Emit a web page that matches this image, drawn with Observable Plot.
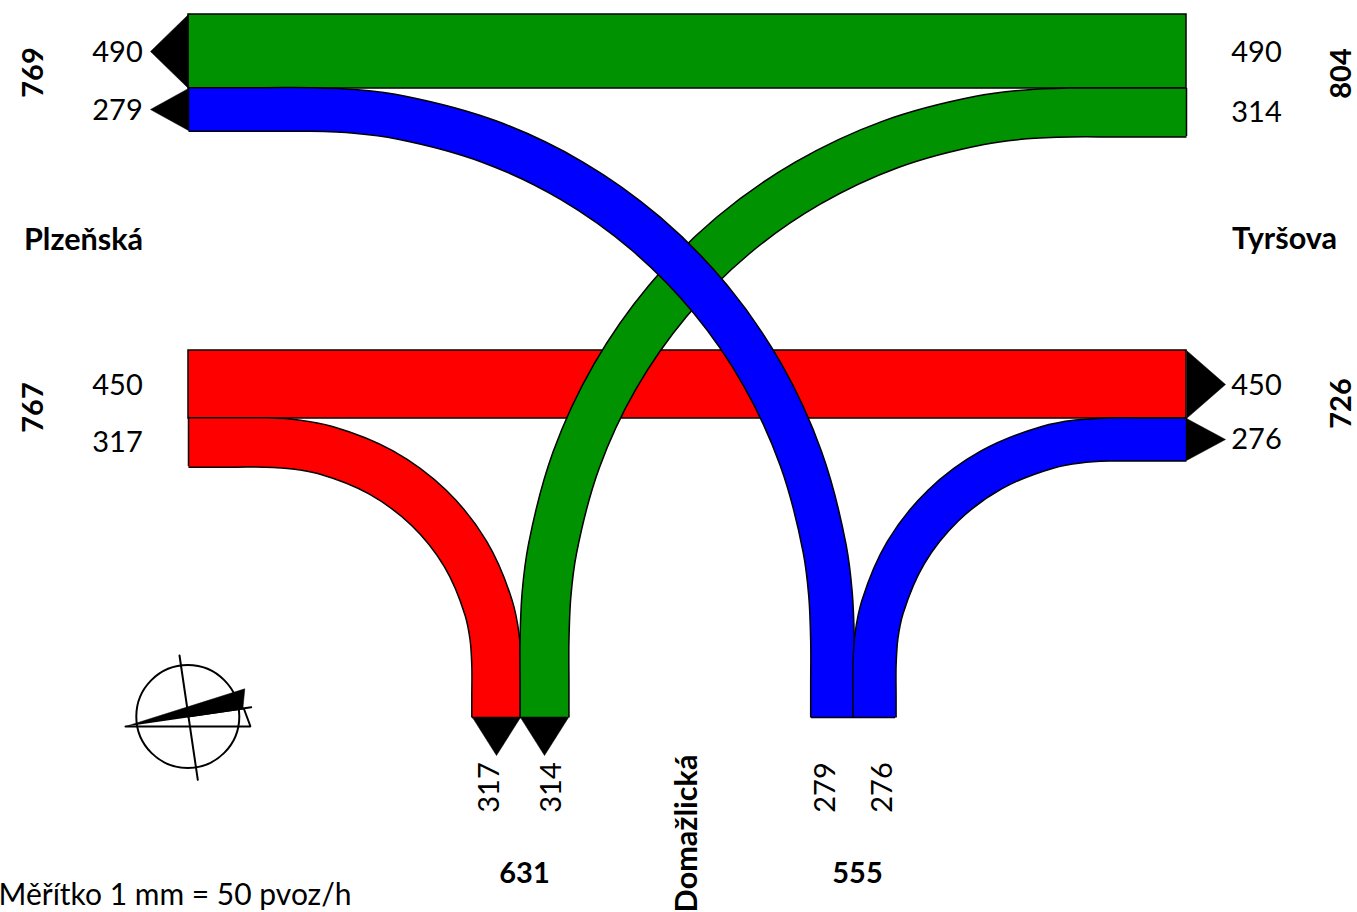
<!DOCTYPE html>
<html><head><meta charset="utf-8">
<script src="https://cdn.jsdelivr.net/npm/d3@7"></script>
<script src="https://cdn.jsdelivr.net/npm/@observablehq/plot@0.6"></script>
<style>html,body{margin:0;padding:0;background:#fff}svg{display:block}</style>
</head><body><div id="chart"></div>
<script>
const GREEN = "#009200", BLUE = "#0000ff", RED = "#ff0000";
const PX_PER_VEHICLE = 0.151;

// Straight-through flows
const straightFlows = [
  {value: 490, x1: 188, x2: 1186, y1: 14, y2: 88, color: GREEN},
  {value: 450, x1: 188, x2: 1186, y1: 350, y2: 418, color: RED}
];

// Turning flows: centre-line waypoints
const redTurn = {value: 317, color: RED, path: [[188,442],[235,442],[265,442],[295.1,443.9],[325,449.6],[380.5,471.9],[428.3,507.3],[465,553.5],[488.1,607.3],[494,635.9],[496,665],[496,695],[496,717]]};
const greenTurn = {value: 314, color: GREEN, path: [[1186,112],[1115,112],[1070,112],[1024.2,114],[978.7,120],[890.1,143.8],[807,182.8],[731.9,235.5],[667.1,300.6],[614.5,376],[575.7,459.4],[552,548.3],[546,594],[544,640],[544,685],[544,717]]};
const blueLeftTurn = {value: 279, color: BLUE, path: [[188,109],[265,109],[310,109],[355.5,111],[400.6,117.1],[488.5,141],[571,180.1],[645.5,233.2],[709.9,298.7],[762.1,374.5],[800.5,458.4],[824.1,547.8],[830,593.7],[832,640],[832,685],[832,717]]};
const blueRightTurn = {value: 276, color: BLUE, path: [[1186,439],[1138,439],[1108,439],[1077.5,441],[1047.4,446.7],[991,469.3],[942.5,505.2],[905.4,552],[882,606.5],[876,635.5],[874,665],[874,695],[874,717]]};
const turns = [redTurn, greenTurn, blueLeftTurn, blueRightTurn];

// Band end caps
const endsV = [
  {x: 188, y1: 88, y2: 130}, {x: 188, y1: 418, y2: 466},
  {x: 1186, y1: 88, y2: 136}, {x: 1186, y1: 418, y2: 460}
];
const endsH = [
  {y: 717, x1: 472, x2: 520}, {y: 717, x1: 520, x2: 568},
  {y: 717, x1: 811, x2: 853}, {y: 717, x1: 853, x2: 895}
];

// Arrow heads
const arrows = [
  [[188,14],[150,51],[188,88]],
  [[188,88],[150,109],[188,130]],
  [[1186,350],[1225,384],[1186,418]],
  [[1186,418],[1225,439],[1186,460]],
  [[472,717],[496,755],[520,717]],
  [[520,717],[544,755],[568,717]]
];

// Labels
const flowLabels = [
  {t:"490",x:117,y:52,r:0},{t:"279",x:117,y:110,r:0},
  {t:"450",x:117,y:385,r:0},{t:"317",x:117,y:442,r:0},
  {t:"490",x:1256,y:52,r:0},{t:"314",x:1256,y:112,r:0},
  {t:"450",x:1256,y:385,r:0},{t:"276",x:1256,y:439,r:0},
  {t:"317",x:489,y:787,r:-90},{t:"314",x:551,y:787,r:-90},
  {t:"279",x:825,y:787,r:-90},{t:"276",x:882,y:787,r:-90}
];
const boldNumbers = [
  {t:"769",x:33,y:72,r:-90},{t:"767",x:33,y:407,r:-90},
  {t:"804",x:1341,y:73,r:-90},{t:"726",x:1341,y:403,r:-90},
  {t:"631",x:524,y:873,r:0},{t:"555",x:857,y:873,r:0}
];
const streetNames = [
  {t:"Plzeňská",x:83,y:240,r:0},{t:"Tyršova",x:1284,y:239,r:0},
  {t:"Domažlická",x:687,y:833,r:-90}
];
const scaleNote = [{t:"Měřítko 1 mm = 50 pvoz/h",x:-2,y:895}];

// North sign
const compassCircle = [{x:187.3,y:716}];
const compassLines = [
  [[179,655],[197.3,779.3]],
  [[187.3,716],[250.7,706.7]],
  [[125,726],[250,726],[243.3,708]]
];
const compassWedge = [[125,726],[244.3,688.3],[242.3,709]];

const band = turn => [
  Plot.line(turn.path, {x:d=>d[0], y:d=>d[1], curve:"catmull-rom", stroke:"black", strokeWidth:turn.value*PX_PER_VEHICLE+3, strokeLinecap:"butt", strokeLinejoin:"round"}),
  Plot.line(turn.path, {x:d=>d[0], y:d=>d[1], curve:"catmull-rom", stroke:turn.color, strokeWidth:turn.value*PX_PER_VEHICLE, strokeLinecap:"butt", strokeLinejoin:"round"})
];

const chart = Plot.plot({
  width: 1357, height: 912,
  margin: 0,
  x: {type:"linear", domain:[0,1357], range:[0,1357], axis:null},
  y: {type:"linear", domain:[0,912], range:[0,912], axis:null},
  style: {background:"#fff", fontFamily:"Lato", color:"#000"},
  marks: [
    Plot.rect(straightFlows, {x1:"x1", x2:"x2", y1:"y1", y2:"y2", fill:"color", stroke:"black", strokeWidth:1.5}),
    ...turns.flatMap(band),
    Plot.ruleX(endsV, {x:"x", y1:"y1", y2:"y2", stroke:"black", strokeWidth:1.5}),
    Plot.ruleY(endsH, {y:"y", x1:"x1", x2:"x2", stroke:"black", strokeWidth:1.5}),
    ...arrows.map(a => Plot.line(a, {x:d=>d[0], y:d=>d[1], fill:"black", stroke:"black", strokeWidth:0.5})),
    Plot.dot(compassCircle, {x:"x", y:"y", r:51.5, stroke:"black", strokeWidth:2, fill:"none"}),
    ...compassLines.map(l => Plot.line(l, {x:d=>d[0], y:d=>d[1], stroke:"black", strokeWidth:2, strokeLinejoin:"miter"})),
    Plot.line(compassWedge, {x:d=>d[0], y:d=>d[1], fill:"black", stroke:"black", strokeWidth:0.5}),
    Plot.text(flowLabels, {x:"x", y:"y", text:"t", rotate:"r", fontSize:29, textAnchor:"middle", lineAnchor:"middle", fill:"black"}),
    Plot.text(boldNumbers, {x:"x", y:"y", text:"t", rotate:"r", fontSize:29, fontWeight:"bold", textAnchor:"middle", lineAnchor:"middle", fill:"black"}),
    Plot.text(streetNames, {x:"x", y:"y", text:"t", rotate:"r", fontSize:30.6, fontWeight:"bold", textAnchor:"middle", lineAnchor:"middle", fill:"black"}),
    Plot.text(scaleNote, {x:"x", y:"y", text:"t", fontSize:30, textAnchor:"start", lineAnchor:"middle", fill:"black"})
  ]
});
document.getElementById("chart").appendChild(chart);
</script></body></html>
